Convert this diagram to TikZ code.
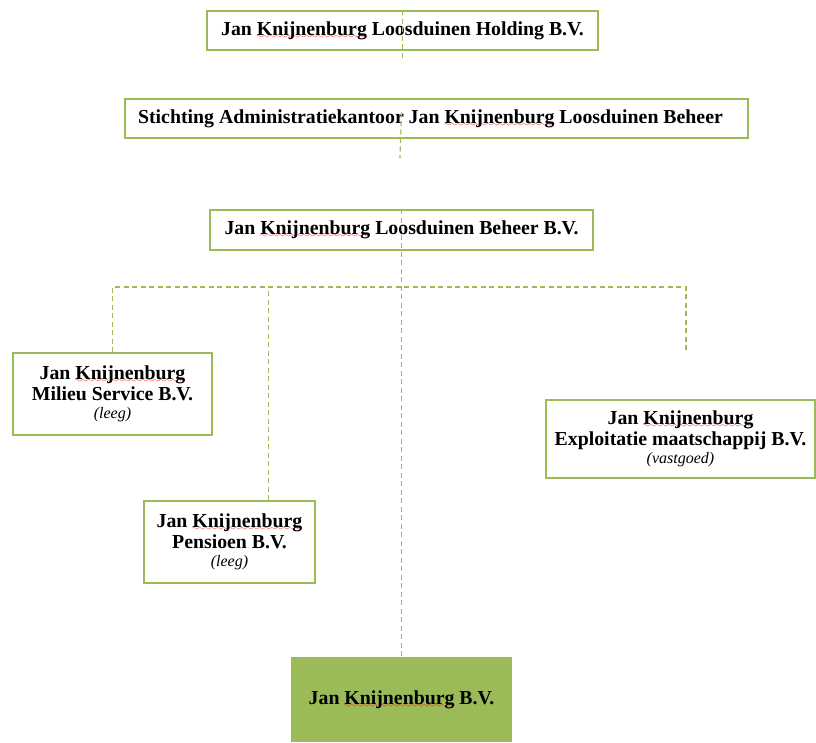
\documentclass[tikz,border=0pt]{standalone}
\usepackage{fontspec}
\setmainfont{Liberation Serif}
\usetikzlibrary{positioning,calc}
\definecolor{boxgreen}{HTML}{9BBB59}
\font\spellfont=lasy6 scaled 1200
\newsavebox\spellbox
\newcommand\spellmark[1]{\sbox\spellbox{#1}\rlap{\lower3.2pt\hbox to\wd\spellbox{\color{red}\leaders\hbox{\spellfont\char58}\hfill}}\usebox\spellbox}
\newcommand\note[1]{{\normalfont\itshape\fontsize{16}{18}\selectfont #1}}
\tikzset{
  basic/.style   = {draw=boxgreen, line width=1.2pt, rectangle, inner sep=0pt,
                    font=\bfseries\fontsize{19.8}{21}\selectfont, align=center},
  holder/.style  = {basic, minimum height=39pt},
  company/.style = {basic, minimum height=82pt},
  main/.style    = {basic, draw=none, fill=boxgreen, minimum height=85pt},
  link/.style    = {draw=boxgreen, line width=1.2pt, dash pattern=on 5pt off 3.5pt}
}

\begin{document}
\begin{tikzpicture}[x=1pt,y=-1pt]
\useasboundingbox (0,0) rectangle (816,742);

% the holding chain, top to bottom
\node[holder, minimum width=391pt] (holding) at (402.5,30.5) {Jan \spellmark{Knijnenburg} Loosduinen Holding B.V.};
\node[holder, minimum width=623pt] (stichting) at (436.5,118.5) {Stichting Administratiekantoor Jan \spellmark{Knijnenburg} Loosduinen Beheer\hspace*{12pt}};
\node[holder, minimum width=383pt, minimum height=40pt] (beheer) at (401.5,230) {Jan \spellmark{Knijnenburg} Loosduinen Beheer B.V.};

% the daughters
\node[company, minimum width=199pt] (milieu) at (112.5,394) {Jan \spellmark{Knijnenburg}\\Milieu Service B.V.\\[-3pt]\note{(leeg)}};
\node[company, minimum width=269pt, minimum height=78pt] (exploit) at (680.5,439) {Jan \spellmark{Knijnenburg}\\Exploitatie maatschappij B.V.\\[-3pt]\note{(vastgoed)}};
\node[company, minimum width=171pt] (pensioen) at (229.5,542) {Jan \spellmark{Knijnenburg}\\Pensioen B.V.\\[-3pt]\note{(leeg)}};
\node[main, minimum width=221pt] (bv) at (401.5,699.5) {Jan \spellmark{Knijnenburg} B.V.};

% free ends of the dashed lines
\coordinate (holdingend) at (400,58);
\coordinate (stichtingend) at (400,158);
\coordinate (bus) at (0,287);
\coordinate (exploitend) at (686,352);
\coordinate (pensioentop) at ($(pensioen.north west)!0.725!(pensioen.north east)$);

% dashed lines
\draw[link] (holding.north) -- (holding.north |- holdingend);
\draw[link] ($(stichting.center -| beheer.north)+(0,-6)$) -- (stichtingend);
\draw[link] (beheer.north) -- (bv.north);
\draw[link] (milieu.north) |- (exploitend |- bus) -- (exploitend);
\draw[link] (pensioentop) -- (pensioentop |- bus);
\end{tikzpicture}
\end{document}
